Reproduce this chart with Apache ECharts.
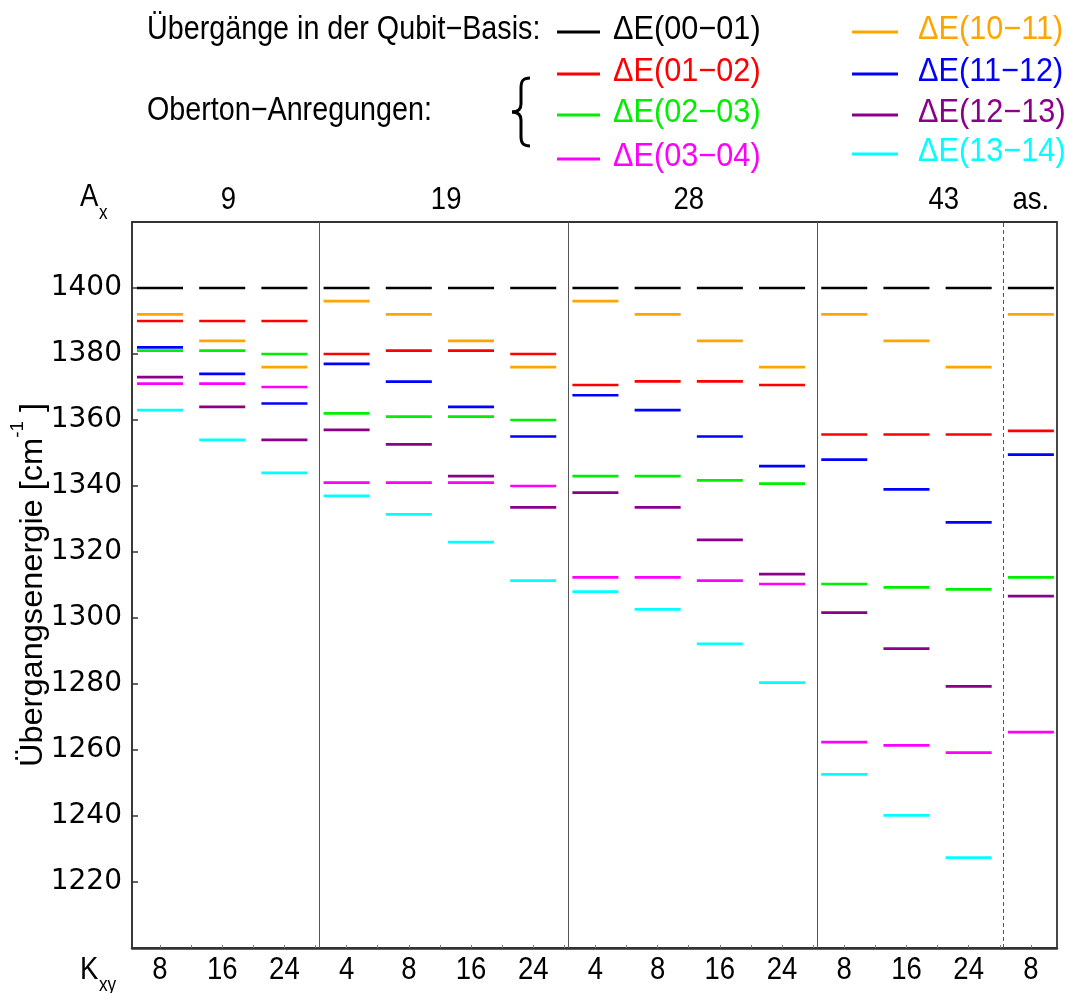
<!DOCTYPE html>
<html>
<head>
<meta charset="utf-8">
<script src="https://cdn.jsdelivr.net/npm/echarts@6/dist/echarts.min.js"></script>
<style>
  html, body { margin: 0; padding: 0; background: #fff; }
  #chart { width: 1067px; height: 993px; }
</style>
</head>
<body>
<div id="chart"></div>
<script>
// Column labels along the bottom (K_xy) and group labels along the top (A_x)
const kxyLabels = ['8', '16', '24', '4', '8', '16', '24', '4', '8', '16', '24', '8', '16', '24', '8'];
const axGroups = ['9', '19', '28', '43', 'as.'];
const axGroupSizes = [3, 4, 4, 3, 1];

// Transition names and colours
const transitionNames = ['ΔE(00−01)', 'ΔE(01−02)', 'ΔE(02−03)', 'ΔE(03−04)',
                         'ΔE(10−11)', 'ΔE(11−12)', 'ΔE(12−13)', 'ΔE(13−14)'];
const transitionColors = ['#000000', '#ff0000', '#00ee00', '#ff00ff',
                          '#ffa500', '#0000ff', '#8b008b', '#00ffff'];

// Transition energies in cm^-1, one value per column
const dE_00_01 = [1400, 1400, 1400, 1400, 1400, 1400, 1400, 1400, 1400, 1400, 1400, 1400, 1400, 1400, 1400];
const dE_01_02 = [1390, 1390, 1390, 1380, 1381, 1381, 1380, 1370.6, 1371.7, 1371.7, 1370.6, 1355.6, 1355.6, 1355.6, 1356.7];
const dE_02_03 = [1381, 1381, 1380, 1362, 1361, 1361, 1360, 1343, 1343, 1341.7, 1340.7, 1310.3, 1309.3, 1308.7, 1312.3];
const dE_03_04 = [1371, 1371, 1370, 1341, 1341, 1341, 1340, 1312.3, 1312.3, 1311.3, 1310.3, 1262.4, 1261.4, 1259.2, 1265.4];
const dE_10_11 = [1392, 1384, 1376, 1396, 1392, 1384, 1376, 1396, 1392, 1384, 1376, 1392, 1384, 1376, 1392];
const dE_11_12 = [1382, 1374, 1365, 1377, 1371.6, 1364, 1355, 1367.5, 1363, 1355, 1346, 1348, 1339, 1329, 1349.5];
const dE_12_13 = [1373, 1364, 1354, 1357, 1352.6, 1343, 1333.5, 1338, 1333.5, 1323.7, 1313.3, 1301.6, 1290.7, 1279.3, 1306.6];
const dE_13_14 = [1363, 1354, 1344, 1337, 1331.4, 1323, 1311.3, 1308, 1302.6, 1292.2, 1280.4, 1252.6, 1240.2, 1227.4, null];

const transitionValues = [dE_00_01, dE_01_02, dE_02_03, dE_03_04, dE_10_11, dE_11_12, dE_12_13, dE_13_14];

// ---- layout / style ----
const FONT = '"Liberation Sans", Arial, Helvetica, sans-serif';
const NUM_FONT = '"DejaVu Sans", sans-serif';
const NARROW = 0.86;
const DASH_HALF = 0.37;     // half width of a level dash, in column units
const nCols = kxyLabels.length;

function dashRenderer(params, api) {
  const i = api.value(0);
  const v = api.value(1);
  const a = api.coord([i - DASH_HALF, v]);
  const b = api.coord([i + DASH_HALF, v]);
  return {
    type: 'line',
    shape: { x1: a[0], y1: a[1], x2: b[0], y2: b[1] },
    style: { stroke: api.visual('color'), lineWidth: 2.7 }
  };
}

// group boundaries (between the last column of a group and the first of the next)
const boundaries = [];
{
  let acc = 0;
  for (let g = 0; g < axGroupSizes.length - 1; g++) {
    acc += axGroupSizes[g];
    boundaries.push(acc - 0.5 + 0.06);
  }
}

const series = transitionValues.map((vals, s) => ({
  name: transitionNames[s],
  type: 'custom',
  renderItem: dashRenderer,
  itemStyle: { color: transitionColors[s] },
  encode: { x: 0, y: 1 },
  data: vals.map((v, i) => (v == null ? null : [i, v])).filter(d => d),
  z: 3,
  silent: true
}));

// vertical group separators
series[0].markLine = {
  silent: true,
  symbol: 'none',
  label: { show: false },
  animation: false,
  data: boundaries.map((b, k) => ({
    xAxis: b,
    lineStyle: {
      color: '#555',
      width: 1,
      type: k === boundaries.length - 1 ? [4, 3] : 'solid'
    }
  }))
};

const tickPositions = [];
for (let t = 0; t <= (nCols - 1) * 2; t++) tickPositions.push(t / 2);

const option = {
  animation: false,
  backgroundColor: '#fff',
  grid: {
    left: 132, right: 10, top: 222, bottom: 45,
    show: true, borderColor: '#333', borderWidth: 1.8, backgroundColor: 'transparent'
  },
  xAxis: {
    type: 'value',
    min: -0.45,
    max: 14.42,
    axisLine: { show: true, onZero: false, lineStyle: { color: '#333', width: 2.5 } },
    axisTick: { show: true, inside: true, length: 3, customValues: tickPositions, lineStyle: { color: '#777' } },
    axisLabel: { show: false },
    splitLine: { show: false }
  },
  yAxis: {
    type: 'value',
    min: 1200,
    max: 1420,
    interval: 20,
    axisLine: { show: true, onZero: false, lineStyle: { color: '#333', width: 1.5 } },
    axisTick: { show: true, inside: true, length: 6, lineStyle: { color: '#333', width: 1.5 } },
    axisLabel: {
      showMinLabel: false, showMaxLabel: false,
      formatter: v => String(v),
      color: '#000', fontFamily: NUM_FONT, fontSize: 28, margin: 10
    },
    splitLine: { show: false }
  },
  series
};

const chart = echarts.init(document.getElementById('chart'), null, { renderer: 'canvas' });
chart.setOption(option);

function label(x, y, text, size, color, align, sx) {
  return {
    type: 'text', x, y, scaleX: sx || NARROW, silent: true, z: 10,
    style: {
      text, fontSize: size, fontFamily: FONT, fill: color || '#000',
      align: align || 'left', verticalAlign: 'middle'
    }
  };
}

const colX = i => chart.convertToPixel({ xAxisIndex: 0 }, i);

const graphics = [];

// K_xy column labels
graphics.push(label(80, 970, 'K', 32, '#000', 'left'));
graphics.push(label(99, 985, 'xy', 20, '#000', 'left'));
kxyLabels.forEach((t, i) => graphics.push(label(colX(i), 970, t, 32, '#000', 'center')));

// A_x group labels
graphics.push(label(80, 197, 'A', 32, '#000', 'left'));
graphics.push(label(99, 213, 'x', 20, '#000', 'left'));
const groupShift = [0.1, 0.1, 0, 0.6, 0];
{
  let start = 0;
  axGroups.forEach((g, k) => {
    const center = start + (axGroupSizes[k] - 1) / 2 + groupShift[k];
    graphics.push(label(colX(center), 200, g, 32, '#000', 'center'));
    start += axGroupSizes[k];
  });
}

// y-axis title with superscript unit
graphics.push({
  type: 'text', x: 29, y: 585, rotation: Math.PI / 2, scaleX: 1.05, silent: true, z: 10,
  style: {
    text: '{t|Übergangsenergie [cm}{s|-1}{t| ]}',
    align: 'center', verticalAlign: 'middle', fill: '#000',
    rich: {
      t: { fontSize: 31, fontFamily: FONT, lineHeight: 40, verticalAlign: 'bottom' },
      s: { fontSize: 18, fontFamily: FONT, lineHeight: 18, verticalAlign: 'top' }
    }
  }
});

// key
graphics.push(label(147, 30, 'Übergänge in der Qubit−Basis:', 33, '#000', 'left', 0.87));
graphics.push(label(147, 111, 'Oberton−Anregungen:', 33, '#000', 'left', 0.87));

// curly brace grouping the overtone entries
const braceSegments = [
  { x1: 530, y1: 78, cpx1: 523, cpy1: 78, cpx2: 521, cpy2: 81, x2: 521, y2: 88 },
  { x1: 521, y1: 88, cpx1: 521, cpy1: 96, cpx2: 521, cpy2: 100, x2: 521, y2: 104 },
  { x1: 521, y1: 104, cpx1: 521, cpy1: 109, cpx2: 518, cpy2: 112, x2: 512, y2: 112 },
  { x1: 512, y1: 112, cpx1: 518, cpy1: 112, cpx2: 521, cpy2: 115, x2: 521, y2: 120 },
  { x1: 521, y1: 120, cpx1: 521, cpy1: 126, cpx2: 521, cpy2: 132, x2: 521, y2: 137 },
  { x1: 521, y1: 137, cpx1: 521, cpy1: 143, cpx2: 523, cpy2: 146, x2: 530, y2: 146 }
];
braceSegments.forEach(seg => graphics.push({
  type: 'bezierCurve', silent: true, z: 10,
  shape: seg,
  style: { stroke: '#000', lineWidth: 3, fill: null }
}));

const keyRowsLeft = [30, 72, 113, 157];
const keyRowsRight = [30, 72, 113, 152];
transitionNames.forEach((name, s) => {
  const right = s >= 4;
  const y = right ? keyRowsRight[s - 4] : keyRowsLeft[s];
  const x1 = right ? 852 : 557;
  const x2 = right ? 898 : 600;
  const tx = right ? 918 : 613;
  graphics.push({
    type: 'line', silent: true, z: 10,
    shape: { x1, y1: y + 2, x2, y2: y + 2 },
    style: { stroke: transitionColors[s], lineWidth: 3 }
  });
  graphics.push(label(tx, y, name, 33, transitionColors[s], 'left', 0.93));
});

chart.setOption({ graphic: graphics });
</script>
</body>
</html>
